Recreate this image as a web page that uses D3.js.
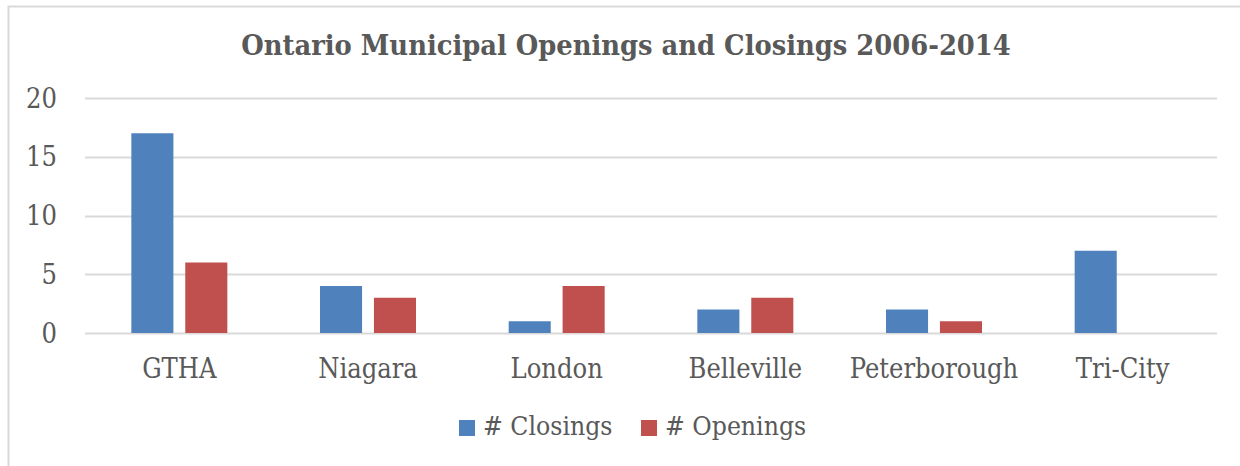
<!DOCTYPE html>
<html lang="en">
<head>
    <meta charset="UTF-8">
    <title>Ontario Municipal Openings and Closings 2006-2014</title>
    <script src="https://cdn.jsdelivr.net/npm/d3@7"></script>
    <style>
        body { margin: 0; background: #fff; }
        text { font-family: "DejaVu Serif Condensed", "DejaVu Serif", serif; fill: #595959; }
    </style>
</head>
<body>
<script>
    var categories = ["GTHA", "Niagara", "London", "Belleville", "Peterborough", "Tri-City"];
    var closings = [17, 4, 1, 2, 2, 7];
    var openings = [6, 3, 4, 3, 1, 0];
    var seriesNames = ["# Closings", "# Openings"];
    var yTicks = [0, 5, 10, 15, 20];

    var colors = ["#4F81BD", "#C0504D"];
    var W = 1240, H = 466;
    var plotLeft = 85, plotRight = 1217, plotTop = 98, plotBottom = 333;

    var svg = d3.select("body").append("svg").attr("width", W).attr("height", H);

    // chart frame (left + top visible, rest runs off the page)
    svg.append("path")
        .attr("d", "M8.5," + H + "V6.5H" + W)
        .attr("fill", "none").attr("stroke", "#d9d9d9").attr("stroke-width", 2);

    var x0 = d3.scaleBand().domain(categories).range([plotLeft, plotRight]);
    var bw = x0.bandwidth();
    var x1 = d3.scaleBand().domain(seriesNames).range([bw / 2 - 48, bw / 2 + 48]).paddingInner(0.22);
    var y = d3.scaleLinear().domain([0, 20]).range([plotBottom, plotTop]);

    // gridlines
    svg.append("g").selectAll("line").data(yTicks).enter().append("line")
        .attr("x1", plotLeft).attr("x2", plotRight)
        .attr("y1", function (d) { return Math.round(y(d)) + 0.5; })
        .attr("y2", function (d) { return Math.round(y(d)) + 0.5; })
        .attr("stroke", "#d9d9d9").attr("stroke-width", 2);

    // y axis labels
    var yAxis = d3.axisLeft(y).tickValues(yTicks).tickSize(0).tickPadding(0);
    var gy = svg.append("g").attr("transform", "translate(57,0)").call(yAxis);
    gy.select(".domain").remove();
    gy.attr("font-family", null).attr("font-size", null);
    gy.selectAll("text").attr("font-size", 27).attr("dy", "0.34em");

    // x axis labels
    var xAxis = d3.axisBottom(x0).tickSize(0).tickPadding(0);
    var gx = svg.append("g").attr("transform", "translate(0,378)").call(xAxis);
    gx.select(".domain").remove();
    gx.attr("font-family", null).attr("font-size", null);
    gx.selectAll("text").attr("font-size", 27).attr("dy", 0);

    // bars
    var rows = categories.map(function (c, i) {
        return { cat: c, vals: [closings[i], openings[i]] };
    });
    var groups = svg.append("g").selectAll("g").data(rows).enter().append("g")
        .attr("transform", function (d) { return "translate(" + x0(d.cat) + ",0)"; });
    groups.selectAll("rect").data(function (d) {
        return d.vals.map(function (v, j) { return { s: seriesNames[j], v: v, j: j }; });
    }).enter().append("rect")
        .attr("x", function (d) { return x1(d.s); })
        .attr("width", x1.bandwidth())
        .attr("y", function (d) { return y(d.v); })
        .attr("height", function (d) { return y(0) - y(d.v); })
        .attr("fill", function (d) { return colors[d.j]; });

    // title
    svg.append("text")
        .attr("x", 626).attr("y", 55)
        .attr("text-anchor", "middle")
        .attr("font-size", 28.7).attr("font-weight", "bold")
        .text("Ontario Municipal Openings and Closings 2006-2014");

    // legend
    var legendX = [459, 641];
    var lg = svg.append("g").selectAll("g").data(seriesNames).enter().append("g")
        .attr("transform", function (d, i) { return "translate(" + legendX[i] + ",420)"; });
    lg.append("rect").attr("width", 16).attr("height", 16)
        .attr("fill", function (d, i) { return colors[i]; });
    lg.append("text").attr("x", 24).attr("y", 15).attr("font-size", 26.3)
        .text(function (d) { return d; });
</script>
</body>
</html>
